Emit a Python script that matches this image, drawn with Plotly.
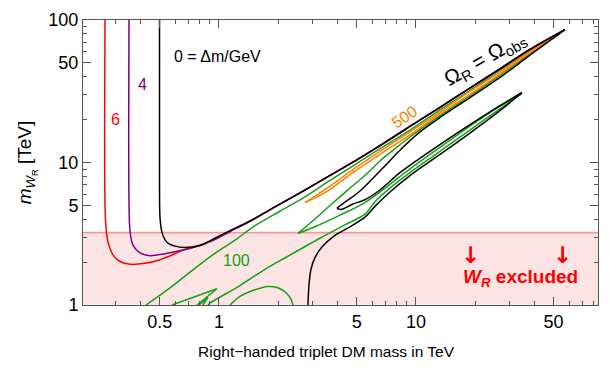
import numpy as np
import plotly.graph_objects as go

# ---------------- data (TeV) ----------------
# Delta m = 0 GeV contour (black): upper branch, return edge, loop, lower branch
black_top_x = [0.499, 0.499, 0.502, 0.514, 0.544, 0.598, 0.672, 0.801, 0.954, 1.137, 1.437,
               1.924, 2.577, 3.452, 4.624, 6.566, 9.322, 13.24, 18.80, 26.70, 37.91, 57.06]
black_top_y = [100, 7.04, 4.08, 3.22, 2.76, 2.59, 2.53, 2.63, 2.94, 3.33, 3.89,
               4.88, 6.12, 7.73, 9.77, 13.15, 17.9, 24.4, 33.3, 45.4, 62.1, 85.5]
black_ret_x = [57.06, 37.91, 26.70, 18.80, 13.24, 10.48, 8.294, 6.961, 5.842, 5.196, 4.624, 4.260, 4.019, 3.972]
black_ret_y = [85.5, 56.6, 39.5, 28.5, 20.7, 16.4, 12.2, 9.47, 7.38, 6.31, 5.57, 5.15, 4.84, 4.76]
black_loop_x = [3.972, 4.211, 4.733, 5.510, 6.566, 8.294, 11.78, 16.73, 23.75, 34.52]
black_loop_y = [4.76, 4.69, 5.07, 5.48, 6.41, 8.49, 11.97, 16.6, 22.7, 31.0]
black_low_x = [34.52, 26.70, 18.80, 13.24, 9.322, 7.379, 6.193, 5.510, 4.624, 3.880, 3.333, 3.071, 2.931, 2.863, 2.830]
black_low_y = [31.0, 23.1, 16.1, 11.4, 8.10, 6.21, 4.92, 4.14, 3.54, 3.08, 2.55, 2.15, 1.78, 1.37, 1.0]

# Delta m = 6 GeV (red) and 4 GeV (purple), which merge into the upper branch
red_x = [0.2638, 0.2638, 0.267, 0.2733, 0.2896, 0.3145, 0.3533, 0.4211, 0.502, 0.598]
red_y = [100, 5.15, 3.49, 2.76, 2.25, 2.02, 1.93, 1.96, 2.08, 2.29]
purple_x = [0.3493, 0.3493, 0.3533, 0.366, 0.3972, 0.4464, 0.532]
purple_y = [100, 5.15, 3.33, 2.63, 2.32, 2.22, 2.29]
merge_x = [0.6566, 0.801, 0.954, 1.137, 1.437]
merge_y = [2.43, 2.61, 2.89, 3.28, 3.86]

# Delta m = 100 GeV (green)
g1_x = [0.426, 0.564, 0.801, 0.977, 1.206, 1.523, 2.040, 2.733, 3.660, 4.624, 6.566, 9.322, 13.24, 18.80, 26.70, 37.91, 57.06]
g1_y = [1.0, 1.32, 1.93, 2.36, 2.85, 3.60, 4.55, 5.74, 7.49, 9.18, 12.5, 16.9, 23.4, 32.0, 44.4, 61.1, 85.5]
g2_x = [57.06, 37.91, 26.70, 18.80, 13.24, 9.322, 7.823, 6.566, 5.510, 4.624, 3.660, 3.071, 2.518]
g2_y = [85.5, 57.9, 40.8, 29.4, 21.3, 15.1, 12.5, 10.24, 8.10, 6.61, 4.99, 4.01, 3.18]
g3_x = [2.518, 3.071, 4.114, 5.510, 6.961, 8.795, 11.78, 16.73, 23.75, 34.52]
g3_y = [3.18, 3.54, 4.27, 5.23, 6.61, 8.49, 11.4, 16.1, 22.4, 30.5]
g4_x = [34.52, 26.70, 18.80, 13.24, 9.322, 7.379, 6.193, 5.510, 4.361, 3.256, 2.214, 1.712, 1.278, 0.900, 0.880]
g4_y = [30.5, 23.8, 16.9, 11.97, 8.49, 6.61, 5.31, 4.34, 3.65, 2.94, 2.18, 1.78, 1.37, 1.03, 1.0]
gv_x = [0.577, 0.977, 0.773]
gv_y = [1.0, 1.30, 1.0]
gv2_x = [0.792, 0.880, 0.829]
gv2_y = [1.0, 1.13, 1.0]
garc_x = [1.137, 1.278, 1.523, 1.773, 1.993, 2.188, 2.320, 2.375]
garc_y = [1.0, 1.15, 1.28, 1.35, 1.32, 1.22, 1.10, 1.0]

# Delta m = 500 GeV (orange)
o1_x = [2.733, 3.660, 4.624, 6.566, 9.322, 13.24, 18.80, 26.70, 37.91, 53.83]
o1_y = [5.23, 6.82, 8.62, 11.97, 16.4, 22.7, 31.5, 43.0, 60.2, 81.6]
o2_x = [53.83, 37.91, 26.70, 18.80, 13.24, 9.322, 6.566, 4.624, 3.660, 3.071, 2.733]
o2_y = [80.4, 58.8, 41.7, 30.1, 22.0, 15.6, 11.4, 8.23, 6.46, 5.65, 5.23]

wr_bound = 3.22          # W_R exclusion (TeV)
x_range = [0.204, 84.0]
y_range = [1.0, 100.0]

x_major = [0.5, 1, 5, 10, 50]
x_major_txt = ["0.5", "1", "5", "10", "50"]
x_minor = [0.3, 0.4, 0.6, 0.7, 0.8, 0.9, 2, 3, 4, 6, 7, 8, 9, 20, 30, 40, 60, 70, 80]
y_major = [1, 5, 10, 50, 100]
y_major_txt = ["1", "5", "10", "50", "100"]
y_minor = [2, 3, 4, 6, 7, 8, 9, 20, 30, 40, 60, 70, 80, 90]

# ---------------- figure ----------------
fig = go.Figure()

def line(x, y, color, width=1.5, shape="spline"):
    fig.add_trace(go.Scatter(x=x, y=y, mode="lines",
                             line=dict(color=color, width=width, shape=shape, smoothing=0.9),
                             hoverinfo="skip", showlegend=False))

# excluded region
fig.add_trace(go.Scatter(x=[x_range[0], x_range[1], x_range[1], x_range[0], x_range[0]],
                         y=[y_range[0], y_range[0], wr_bound, wr_bound, y_range[0]],
                         mode="none", fill="toself", fillcolor="rgba(252,228,228,1)",
                         hoverinfo="skip", showlegend=False))
line([x_range[0], x_range[1]], [wr_bound, wr_bound], "rgb(255,150,150)", 1.6, "linear")

GREEN = "rgb(20,160,20)"
ORANGE = "rgb(255,128,0)"
RED = "rgb(255,0,0)"
PURPLE = "rgb(128,0,128)"

for gx, gy in [(g1_x, g1_y), (g2_x, g2_y), (g3_x, g3_y), (g4_x, g4_y)]:
    line(gx, gy, GREEN)
line(gv_x, gv_y, GREEN, shape="linear")
line(gv2_x, gv2_y, GREEN, shape="linear")
line(garc_x, garc_y, GREEN)
line(o1_x, o1_y, ORANGE)
line(o2_x, o2_y, ORANGE)
line(red_x + merge_x + black_top_x[11:], red_y + merge_y + black_top_y[11:], RED)
line(purple_x + merge_x + black_top_x[11:], purple_y + merge_y + black_top_y[11:], PURPLE)
for bx, by in [(black_top_x, black_top_y), (black_ret_x, black_ret_y),
               (black_loop_x, black_loop_y), (black_low_x, black_low_y)]:
    line(bx, by, "black")

FONT = "Liberation Sans, Arial, Helvetica, sans-serif"
lg = np.log10

def label(x, y, text, color, size=16, angle=0, family=FONT):
    fig.add_annotation(x=lg(x), y=lg(y), xref="x", yref="y", text=text, showarrow=False,
                       xanchor="center", yanchor="middle",
                       font=dict(family=family, size=size, color=color), textangle=angle)

label(0.300, 20.0, "6", RED)
label(0.411, 35.1, "4", PURPLE)
label(0.988, 55.3, "0 = Δm/GeV", "black")
label(8.795, 21.0, "500", ORANGE, 16, -34)
label(1.234, 2.05, "100", GREEN)
label(22.4, 53.6, "Ω<sub>R</sub> = Ω<sub>obs</sub>", "black", 21, -30)
label(19.02, 2.25, "<b>↓</b>", RED, 23, family="DejaVu Sans")
label(55.7, 2.25, "<b>↓</b>", RED, 23, family="DejaVu Sans")
label(34.1, 1.55, "<b><i>W</i><sub><i>R</i></sub> excluded</b>", RED, 19)

# axis titles
fig.add_annotation(x=0.472, y=-0.163, xref="paper", yref="paper", showarrow=False,
                   xanchor="center", yanchor="middle",
                   text="Right−handed triplet DM mass in TeV",
                   font=dict(family=FONT, size=15.5, color="black"))
fig.add_annotation(x=-0.109, y=0.50, xref="paper", yref="paper", showarrow=False, textangle=-90,
                   xanchor="center", yanchor="middle",
                   text="<i>m</i><sub><i>W</i><sub>R</sub></sub> [TeV]",
                   font=dict(family=FONT, size=19, color="black"))

axis_common = dict(type="log", showgrid=False, zeroline=False, showline=True, linecolor="#555",
                   linewidth=1, mirror="allticks", ticks="inside", ticklen=8, tickwidth=1,
                   tickcolor="#555", tickfont=dict(family=FONT, size=18, color="black"),
                   tickmode="array")
fig.update_xaxes(range=[lg(x_range[0]), lg(x_range[1])], tickvals=x_major, ticktext=x_major_txt,
                 minor=dict(tickmode="array", tickvals=x_minor, ticks="inside", ticklen=4,
                            tickcolor="#555", showgrid=False), **axis_common)
fig.update_yaxes(range=[lg(y_range[0]), lg(y_range[1])], tickvals=y_major, ticktext=y_major_txt,
                 minor=dict(tickmode="array", tickvals=y_minor, ticks="inside", ticklen=4,
                            tickcolor="#555", showgrid=False), **axis_common)

fig.update_layout(width=613, height=372, margin=dict(l=83, r=15, t=10, b=67),
                  paper_bgcolor="white", plot_bgcolor="white", showlegend=False)

fig.write_html("out.html")
